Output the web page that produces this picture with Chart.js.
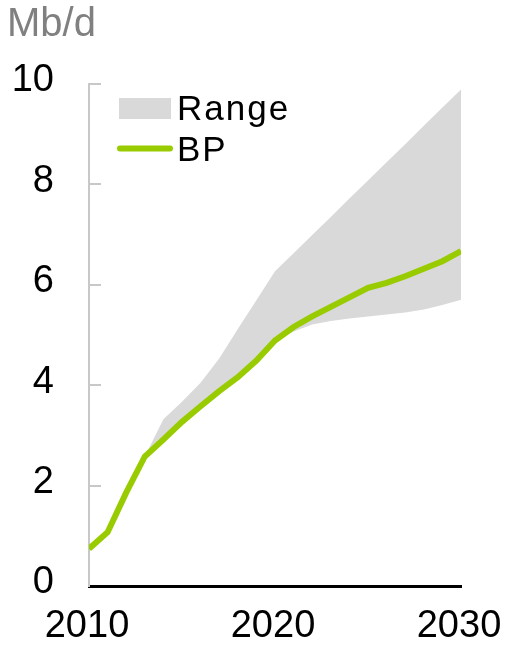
<!DOCTYPE html>
<html>
<head>
<meta charset="utf-8">
<script src="https://cdn.jsdelivr.net/npm/chart.js@4"></script>
<style>
  html, body { margin: 0; padding: 0; background: #fff; }
  #wrap { width: 507px; height: 659px; }
</style>
</head>
<body>
<div id="wrap"><canvas id="chartOil"></canvas></div>
<script>
const years = [2010, 2011, 2012, 2013, 2014, 2015, 2016, 2017, 2018, 2019, 2020,
               2021, 2022, 2023, 2024, 2025, 2026, 2027, 2028, 2029, 2030];
const bpValues = [0.74, 1.07, 1.86, 2.58, 2.92, 3.27, 3.58, 3.88, 4.16, 4.49, 4.89,
                  5.16, 5.37, 5.56, 5.75, 5.94, 6.04, 6.17, 6.32, 6.47, 6.67];
const rangeHigh = [null, null, null, 2.58, 3.32, 3.67, 4.05, 4.53, 5.12, 5.69, 6.27,
                   6.63, 6.99, 7.35, 7.72, 8.08, 8.44, 8.80, 9.17, 9.53, 9.89];
const rangeLow = [null, null, null, 2.58, 2.92, 3.27, 3.58, 3.88, 4.16, 4.49, 4.89,
                  5.07, 5.21, 5.28, 5.33, 5.37, 5.41, 5.45, 5.51, 5.60, 5.70];
const yTicks = [0, 2, 4, 6, 8, 10];
const xTicks = [2010, 2020, 2030];
const unitLabel = "Mb/d";

const green = "#99cc00";
const grey = "#d9d9d9";
const axisGrey = "#c8c8c8";
const font = '"Liberation Sans", Arial, sans-serif';

function points(values) {
    return years.map((y, i) => ({ x: y, y: values[i] }));
}

// short tick marks pointing into the plot from the y axis
const innerTicks = {
    id: "innerTicks",
    afterDraw(chart) {
        const ctx = chart.ctx;
        const area = chart.chartArea;
        const scale = chart.scales.y;
        ctx.save();
        ctx.strokeStyle = axisGrey;
        ctx.lineWidth = 2;
        scale.ticks.forEach(t => {
            if (t.value === 0) return;
            const y = Math.round(scale.getPixelForValue(t.value));
            ctx.beginPath();
            ctx.moveTo(area.left, y);
            ctx.lineTo(area.left + 12, y);
            ctx.stroke();
        });
        ctx.restore();
    }
};

// legend inside the plot, top left
const insideLegend = {
    id: "insideLegend",
    afterDatasetsDraw(chart) {
        const ctx = chart.ctx;
        const a = chart.chartArea;
        const ds = chart.data.datasets;
        ctx.save();
        ctx.fillStyle = ds[1].backgroundColor;
        ctx.fillRect(a.left + 30, a.top + 14, 52, 21);
        ctx.strokeStyle = ds[0].borderColor;
        ctx.lineWidth = 6;
        ctx.lineCap = "round";
        ctx.beginPath();
        ctx.moveTo(a.left + 31, a.top + 64.5);
        ctx.lineTo(a.left + 81, a.top + 64.5);
        ctx.stroke();
        ctx.fillStyle = "#000";
        ctx.font = "35px " + font;
        ctx.letterSpacing = "2px";
        ctx.textBaseline = "alphabetic";
        ctx.fillText(ds[1].label, a.left + 88, a.top + 35.5);
        ctx.fillText(ds[0].label, a.left + 88, a.top + 76.5);
        ctx.restore();
    }
};

document.addEventListener("DOMContentLoaded", function () {
    const ctx = document.getElementById("chartOil");

    new Chart(ctx, {
        type: "line",
        data: {
            datasets: [{
                label: "BP",
                data: points(bpValues),
                borderColor: green,
                borderWidth: 6,
                pointRadius: 0,
                fill: false,
                tension: 0
            }, {
                label: "Range",
                data: points(rangeHigh),
                borderWidth: 0,
                borderColor: grey,
                backgroundColor: grey,
                pointRadius: 0,
                fill: "+1",
                tension: 0
            }, {
                label: "Range low",
                data: points(rangeLow),
                borderWidth: 0,
                borderColor: grey,
                pointRadius: 0,
                fill: false,
                tension: 0
            }]
        },
        options: {
            responsive: true,
            maintainAspectRatio: false,
            animation: false,
            layout: { padding: { left: 7, right: 46, top: 0, bottom: 0 } },
            plugins: {
                legend: { display: false },
                tooltip: { enabled: false },
                title: {
                    display: true,
                    text: unitLabel,
                    align: "start",
                    color: "#808080",
                    font: { family: font, size: 40, weight: "normal", lineHeight: 1.1 },
                    padding: { top: 3, bottom: 37 }
                }
            },
            scales: {
                x: {
                    type: "linear",
                    min: 2010,
                    max: 2030,
                    afterBuildTicks: s => { s.ticks = xTicks.map(v => ({ value: v })); },
                    afterFit: s => { s.height = 73; s.paddingLeft = 0; s.paddingRight = 0; },
                    grid: { display: false, drawTicks: false },
                    border: { display: true, color: "#000", width: 3 },
                    ticks: {
                        color: "#000",
                        font: { family: font, size: 38 },
                        padding: 18,
                        labelOffset: -2,
                        maxRotation: 0,
                        callback: v => String(v)
                    }
                },
                y: {
                    min: 0,
                    max: 10,
                    afterBuildTicks: s => { s.ticks = yTicks.map(v => ({ value: v })); },
                    afterFit: s => { s.width = 82; s.paddingTop = 0; s.paddingBottom = 0; },
                    grid: { display: false, drawTicks: false },
                    border: { display: true, color: axisGrey, width: 2 },
                    ticks: {
                        color: "#000",
                        font: { family: font, size: 38 },
                        padding: 35,
                        labelOffset: -3,
                        callback: v => String(v)
                    }
                }
            }
        },
        plugins: [innerTicks, insideLegend]
    });
});
</script>
</body>
</html>
